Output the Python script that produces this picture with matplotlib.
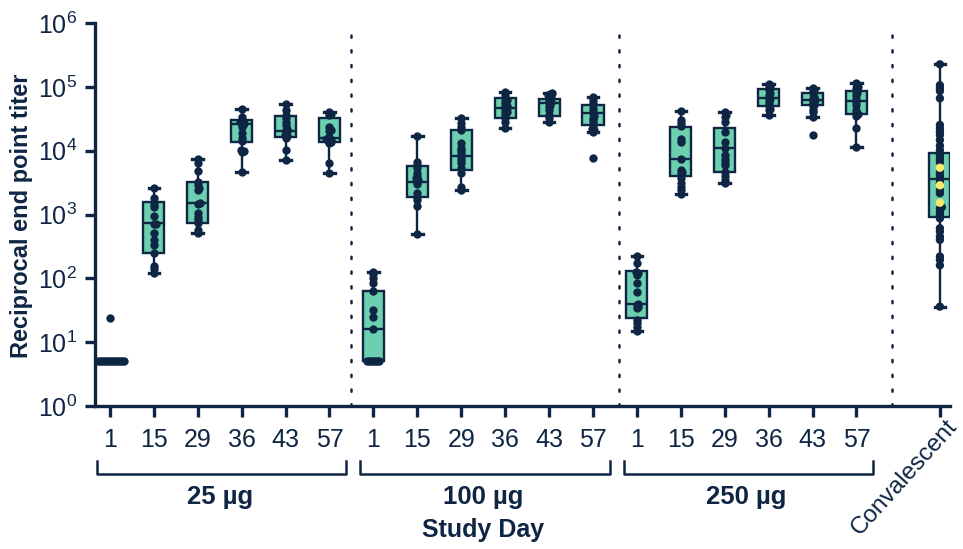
import numpy as np
import matplotlib
matplotlib.use("Agg")
import matplotlib.pyplot as plt
from matplotlib.transforms import blended_transform_factory
from matplotlib.ticker import NullLocator
from matplotlib.lines import Line2D

plt.rcParams['mathtext.fontset'] = 'custom'
plt.rcParams['mathtext.rm'] = 'Liberation Sans'
plt.rcParams['mathtext.default'] = 'regular'
plt.rcParams['font.family'] = ['Liberation Sans', 'DejaVu Sans']

NAVY = '#0e2544'
TEAL = '#6ccfb0'
YELLOW = '#f7ea6a'
NARROW = ['Liberation Sans Narrow', 'Liberation Sans', 'DejaVu Sans']

# ---------------- data ----------------
day_labels = ["1", "15", "29", "36", "43", "57"]
dose_labels = ["25 µg", "100 µg", "250 µg"]
conv_label = "Convalescent"

d25 = [
    [5] * 14 + [24],
    [2570, 1790, 1590, 1410, 1300, 950, 710, 700, 510, 400, 333, 246, 158, 138, 123],
    [7330, 6370, 4810, 3270, 2900, 2560, 2420, 1500, 1460, 1050, 930, 820, 730, 570, 510],
    [45000, 33400, 30300, 28000, 27000, 26700, 25000, 23900, 19000, 15600, 14000, 10200, 10000, 9600, 4600],
    [53900, 44000, 36300, 32000, 28000, 25500, 22000, 21000, 20000, 19000, 17600, 17000, 16000, 10200, 7100],
    [40000, 38000, 36300, 23900, 21000, 20000, 16600, 15000, 14800, 14500, 14000, 13500, 13000, 6300, 4420],
]
d100 = [
    [127, 115, 100, 84, 64, 32, 25, 16, 5, 5, 5, 5, 5, 5, 5],
    [17200, 6640, 5900, 5300, 4400, 4000, 3700, 3500, 3270, 3000, 2150, 1900, 1680, 1370, 495],
    [32200, 26700, 23900, 21100, 13300, 11000, 10200, 9100, 8100, 7200, 6400, 5300, 4400, 2730, 2420],
    [84000, 74000, 62000, 60000, 55000, 50000, 49500, 46100, 45000, 41000, 40000, 36300, 32200, 28000, 22400],
    [79000, 76000, 74000, 72000, 70000, 66000, 62000, 58000, 56000, 52000, 48800, 44000, 36000, 32500, 28400],
    [70000, 62000, 56000, 47000, 42000, 38500, 35000, 33000, 30000, 27000, 24000, 22000, 21000, 19800, 7760],
]
d250 = [
    [226, 171, 127, 120, 113, 83, 60, 40, 38, 36, 34, 22, 20, 17, 15],
    [42300, 30000, 26700, 24600, 15000, 13900, 7400, 5000, 4700, 4400, 3700, 3100, 2700, 2400, 2100],
    [40800, 36000, 34000, 28000, 19800, 13900, 11100, 8500, 7500, 6600, 5900, 4700, 4000, 3500, 3150],
    [111000, 105000, 100000, 95000, 90000, 79000, 75000, 70000, 65000, 62000, 56000, 49500, 45000, 43000, 36200],
    [95000, 90000, 86000, 79000, 70000, 66000, 62000, 60000, 56000, 52000, 49500, 43000, 40000, 33300, 17600],
    [114000, 100000, 95000, 87000, 80000, 75000, 64000, 58000, 52000, 44000, 38500, 37000, 35000, 22600, 11500],
]
conv = [225000, 106000, 95000, 86000, 66000, 25300, 22300, 19800, 17600, 14700, 12000, 10200, 8500,
        7500, 6600, 4700, 4200, 3800, 3500, 3100, 2400, 2150, 1300, 1250, 1100, 990, 870, 610, 540,
        450, 400, 220, 195, 160, 36]
conv_yellow = [5400, 2870, 1530]

# box statistics (19 boxes: 3 doses x 6 days + convalescent)
q1 = [5, 246, 745, 13530, 16600, 13530, 5, 1900, 4980, 32900, 35300, 25200,
      23.7, 4010, 4690, 49200, 51400, 37200, 925]
med = [5, 745, 1500, 25900, 20300, 15960, 15.9, 3270, 8260, 46100, 56400, 38500,
       39, 7410, 11100, 67600, 62200, 60000, 3560]
q3 = [5, 1550, 3270, 30270, 35300, 32200, 64, 5750, 21100, 66200, 64500, 52000,
      130, 23800, 22400, 92500, 81000, 87100, 9100]
wlo = [5, 123, 508, 4690, 7140, 4420, 5, 495, 2420, 22400, 28400, 19800,
       15.1, 2100, 3150, 36200, 33300, 11500, 36]
whi = [5, 2570, 7330, 45000, 53900, 40000, 127, 17200, 32200, 84000, 79200, 70100,
       226, 42300, 40800, 111000, 94900, 114000, 225000]

# ---------------- layout ----------------
W, H = 963, 549
fig = plt.figure(figsize=(W / 100, H / 100), dpi=100)
ax = fig.add_axes([95 / W, 1 - 406 / H, (950 - 95) / W, (406 - 23) / H])

positions = [g * 6 + i for g in range(3) for i in range(6)] + [18.9]
XMIN, XMAX = -0.34, 19.13
ax.set_xlim(XMIN, XMAX)
ax.set_yscale('log')
ax.set_ylim(1, 1e6)

unit_px = (950 - 95) / (XMAX - XMIN)
dec_px = (406 - 23) / 6.0

stats = [dict(med=m, q1=a, q3=b, whislo=lo, whishi=hi, fliers=[])
         for a, m, b, lo, hi in zip(q1, med, q3, wlo, whi)]
ax.bxp(stats, positions=positions, widths=0.48, patch_artist=True, showfliers=False,
       boxprops=dict(facecolor=TEAL, edgecolor=NAVY, linewidth=1.7),
       medianprops=dict(color=NAVY, linewidth=1.7),
       whiskerprops=dict(color=NAVY, linewidth=1.7),
       capprops=dict(color=NAVY, linewidth=2.4), capwidths=0.24, manage_ticks=False)


def swarm(vals, dmin=1.9, step=0.5):
    ys = np.log10(np.asarray(vals, float)) * dec_px
    order = np.argsort(ys)
    placed = []
    xs = np.zeros(len(ys))
    cands = [0.0]
    for k in range(1, 200):
        cands += [k * step, -k * step]
    for i in order:
        y = ys[i]
        for c in cands:
            if all((c - px) ** 2 + (y - py) ** 2 >= dmin ** 2 for px, py in placed):
                break
        xs[i] = c
        placed.append((c, y))
    return xs / unit_px


all_groups = d25 + d100 + d250
for p, vals in zip(positions[:18], all_groups):
    off = swarm(vals)
    ax.scatter(p + off, vals, s=36, color=NAVY, zorder=5, linewidths=0, clip_on=False)

cv = conv + conv_yellow
off = swarm(cv)
cols = [NAVY] * len(conv) + [YELLOW] * len(conv_yellow)
ax.scatter(positions[18] + off, cv, s=36, c=cols, zorder=5, linewidths=0)

# dotted separators
for xsep in [5.5, 11.6, 17.8]:
    ax.plot([xsep, xsep], [1, 10 ** 5.84], ls=(0, (0.9, 5.0)), lw=1.8, color=NAVY,
            dash_capstyle='round', clip_on=False, zorder=1)

# axes styling
for s in ['top', 'right']:
    ax.spines[s].set_visible(False)
for s in ['left', 'bottom']:
    ax.spines[s].set_color(NAVY)
    ax.spines[s].set_linewidth(2.4)

ax.set_yticks([10 ** k for k in range(7)])
ax.set_yticklabels([r'$\mathregular{10^{%d}}$' % k for k in range(7)])
ax.yaxis.set_minor_locator(NullLocator())
ax.tick_params(axis='y', direction='out', length=7, width=2.4, color=NAVY,
               labelcolor=NAVY, labelsize=18, pad=6)

ax.set_xticks(positions)
ax.set_xticklabels(day_labels * 3 + [""])
ax.tick_params(axis='x', direction='out', length=8, width=2.4, color=NAVY,
               labelcolor=NAVY, labelsize=18, pad=8)
for lab in ax.get_xticklabels():
    lab.set_fontfamily(NARROW)

# below-axis annotations
tr = blended_transform_factory(ax.transData, fig.transFigure)
fy = lambda ypx: 1 - ypx / H
for g, name in enumerate(dose_labels):
    x0, x1 = g * 6 - 0.3, g * 6 + 5.38
    ln = Line2D([x0, x0, x1, x1], [fy(461), fy(474), fy(474), fy(461)], transform=tr,
                color=NAVY, lw=1.8, clip_on=False)
    ax.add_line(ln)
    ax.text(g * 6 + 2.5, fy(497), name, transform=tr, ha='center', va='center',
            fontsize=18.5, fontweight='bold', color=NAVY, family=NARROW)

ax.text(8.5, fy(530), "Study Day", transform=tr, ha='center', va='center',
        fontsize=18, fontweight='bold', color=NAVY, family=NARROW)
ax.text((904 - 95) / unit_px + XMIN, fy(477), conv_label, transform=tr, ha='center',
        va='center', rotation=48, fontsize=17.5, color=NAVY, family=NARROW)

fig.text(22 / W, 1 - 216 / H, "Reciprocal end point titer", rotation=90, ha='center',
         va='center', fontsize=17, fontweight='bold', color=NAVY)

fig.savefig("out.png", dpi=100)
